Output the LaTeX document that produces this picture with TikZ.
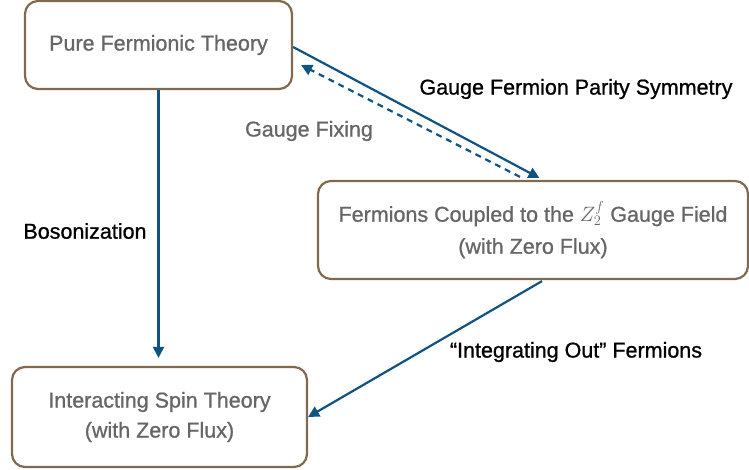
\documentclass[tikz,border=0pt]{standalone}
\usepackage{fontspec}
\setmainfont{Liberation Sans}
\newfontfamily\medfont[FakeBold=0.9]{Liberation Sans}
\usetikzlibrary{arrows.meta,calc}
\definecolor{boxbrown}{HTML}{80694F}
\definecolor{arrblue}{HTML}{0F5383}
\definecolor{txtgray}{HTML}{666666}
\begin{document}
\begin{tikzpicture}[x=1pt,y=-1pt,
  every node/.style={font=\medfont\fontsize{21.5}{25}\selectfont, inner sep=0pt},
  box/.style={draw=boxbrown, line width=2.2pt, rounded corners=13pt, text=txtgray, align=center},
  conn/.style={draw=arrblue, line width=2.2pt, -{Triangle[length=11pt,width=11pt]}},
  lbl/.style={text=black}
]
\useasboundingbox (0,0) rectangle (749,470);
\node[box, minimum width=267pt, minimum height=88pt] (A) at (158.5,45) {Pure Fermionic Theory};
\node[box, minimum width=430pt, minimum height=98pt] (B) at (533,230) {Fermions Coupled to the $Z_2^f$ Gauge Field\\[7pt](with Zero Flux)};
\node[box, minimum width=295pt, minimum height=100pt] (C) at (159.5,417) {Interacting Spin Theory\\[5pt](with Zero Flux)};

\draw[conn, shorten >=8pt] (A.south) -- (A.south |- C.north);
\draw[conn, shorten >=4pt] ($(A.east)+(0,2)$) -- ($(B.north)+(10,0)$);
\draw[conn, dashed, dash pattern=on 6pt off 5pt] ($(B.north)+(-13,-3)$) -- ($(A.east)+(8,20)$);
\draw[conn] ($(B.south)+(9,1)$) -- (C.east);

\node[lbl] (l1) at (85,231) {Bosonization};
\node[lbl] (l2) at (576,89) {Gauge Fermion Parity Symmetry};
\node[text=txtgray] (l3) at (309,131) {Gauge Fixing};
\node[lbl] (l4) at (576,352) {“Integrating Out” Fermions};
\end{tikzpicture}
\end{document}
